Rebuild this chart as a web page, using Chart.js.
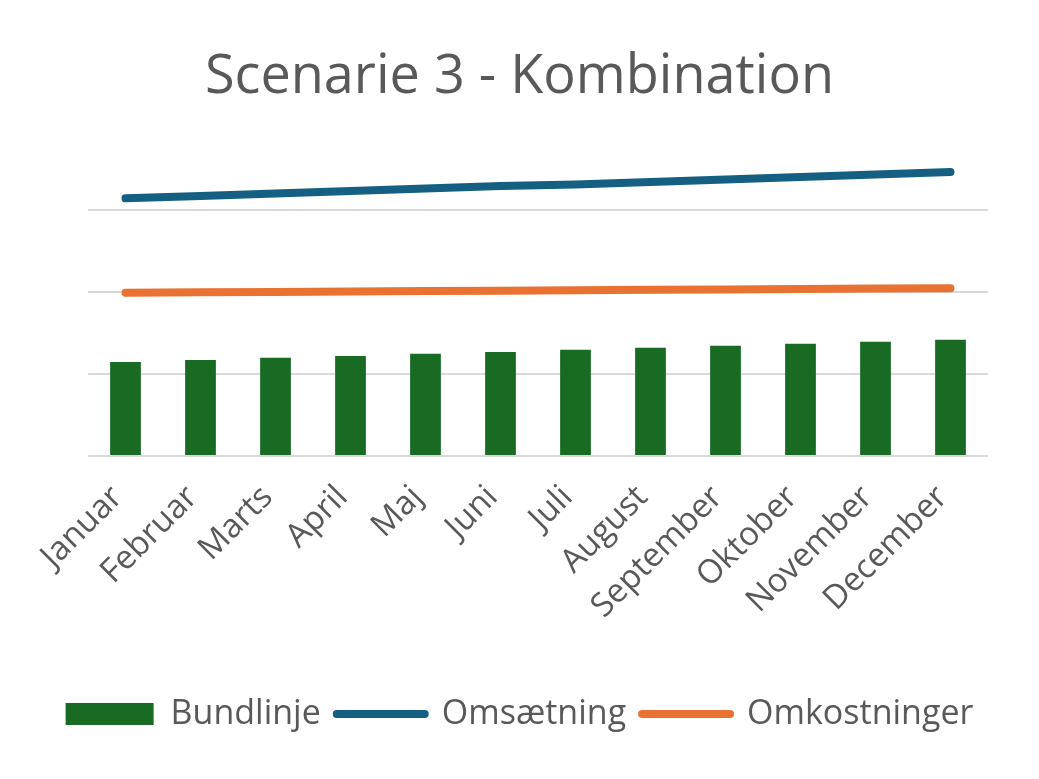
<!DOCTYPE html>
<html>
<head>
<meta charset="utf-8">
<script src="https://cdn.jsdelivr.net/npm/chart.js@4.4.1/dist/chart.umd.min.js"></script>
<style>
  html, body { margin: 0; padding: 0; background: #ffffff; }
  #wrap { width: 1039px; height: 779px; }
</style>
</head>
<body>
<div id="wrap"><canvas id="chart"></canvas></div>
<script>
// Scenarie 3 - Kombination
const months = ['Januar', 'Februar', 'Marts', 'April', 'Maj', 'Juni', 'Juli',
  'August', 'September', 'Oktober', 'November', 'December'];
const bundlinje = [1.147, 1.171, 1.196, 1.220, 1.245, 1.269, 1.294, 1.318, 1.343, 1.367, 1.392, 1.416];
const omsaetning = [3.14, 3.17, 3.20, 3.23, 3.26, 3.29, 3.31, 3.34, 3.37, 3.40, 3.43, 3.46];
const omkostninger = [1.99, 1.995, 2.00, 2.005, 2.01, 2.015, 2.02, 2.025, 2.03, 2.035, 2.04, 2.045];

const textColor = '#595959';
const fontFamily = "'Open Sans', 'Noto Sans', sans-serif";

new Chart(document.getElementById('chart'), {
  data: {
    labels: months,
    datasets: [
      {
        type: 'bar',
        label: 'Bundlinje',
        data: bundlinje,
        backgroundColor: '#196B24',
        barPercentage: 0.41,
        categoryPercentage: 1,
        order: 3,
      },
      {
        type: 'line',
        label: 'Omsætning',
        data: omsaetning,
        borderColor: '#156082',
        backgroundColor: '#156082',
        borderWidth: 8,
        borderCapStyle: 'round',
        pointRadius: 0,
        order: 1,
      },
      {
        type: 'line',
        label: 'Omkostninger',
        data: omkostninger,
        borderColor: '#E97132',
        backgroundColor: '#E97132',
        borderWidth: 8,
        borderCapStyle: 'round',
        pointRadius: 0,
        order: 2,
      },
    ],
  },
  options: {
    responsive: true,
    maintainAspectRatio: false,
    animation: false,
    layout: { padding: { left: 0, right: 0, top: 0, bottom: 38 } },
    plugins: {
      title: {
        display: true,
        text: 'Scenarie 3 - Kombination',
        color: textColor,
        font: { family: fontFamily, size: 54, weight: 'normal' },
        padding: { top: 45, bottom: 18 },
      },
      legend: {
        position: 'bottom',
        labels: {
          color: textColor,
          font: { family: fontFamily, size: 34 },
          usePointStyle: true,
          pointStyleWidth: 88,
          boxHeight: 22,
          padding: 16,
          generateLabels(chart) {
            return chart.data.datasets.map((ds, i) => ({
              text: ds.label,
              fillStyle: ds.backgroundColor,
              strokeStyle: ds.type === 'bar' ? ds.backgroundColor : ds.borderColor,
              lineWidth: ds.type === 'bar' ? 0 : 8,
              lineCap: 'round',
              pointStyle: ds.type === 'bar' ? 'rect' : 'line',
              fontColor: textColor,
              datasetIndex: i,
              hidden: false,
            }));
          },
        },
      },
      tooltip: { enabled: false },
    },
    scales: {
      x: {
        grid: { display: false },
        border: { display: false },
        afterFit: scale => { scale.height = 225; },
        ticks: {
          color: textColor,
          font: { family: fontFamily, size: 33 },
          minRotation: 45,
          maxRotation: 45,
          autoSkip: false,
          padding: 14,
          labelOffset: -8,
        },
      },
      y: {
        min: 0,
        max: 4,
        border: { display: false },
        afterFit: scale => { scale.width = 88; },
        grid: {
          color: ctx => (ctx.tick && ctx.tick.value === 4 ? 'rgba(0,0,0,0)' : '#D9D9D9'),
          lineWidth: 2,
          drawTicks: false,
        },
        ticks: { display: false, stepSize: 1 },
      },
      yRight: {
        position: 'right',
        min: 0,
        max: 4,
        border: { display: false },
        grid: { display: false },
        ticks: { display: false },
        afterFit: scale => { scale.width = 51; },
      },
    },
  },
});
</script>
</body>
</html>
